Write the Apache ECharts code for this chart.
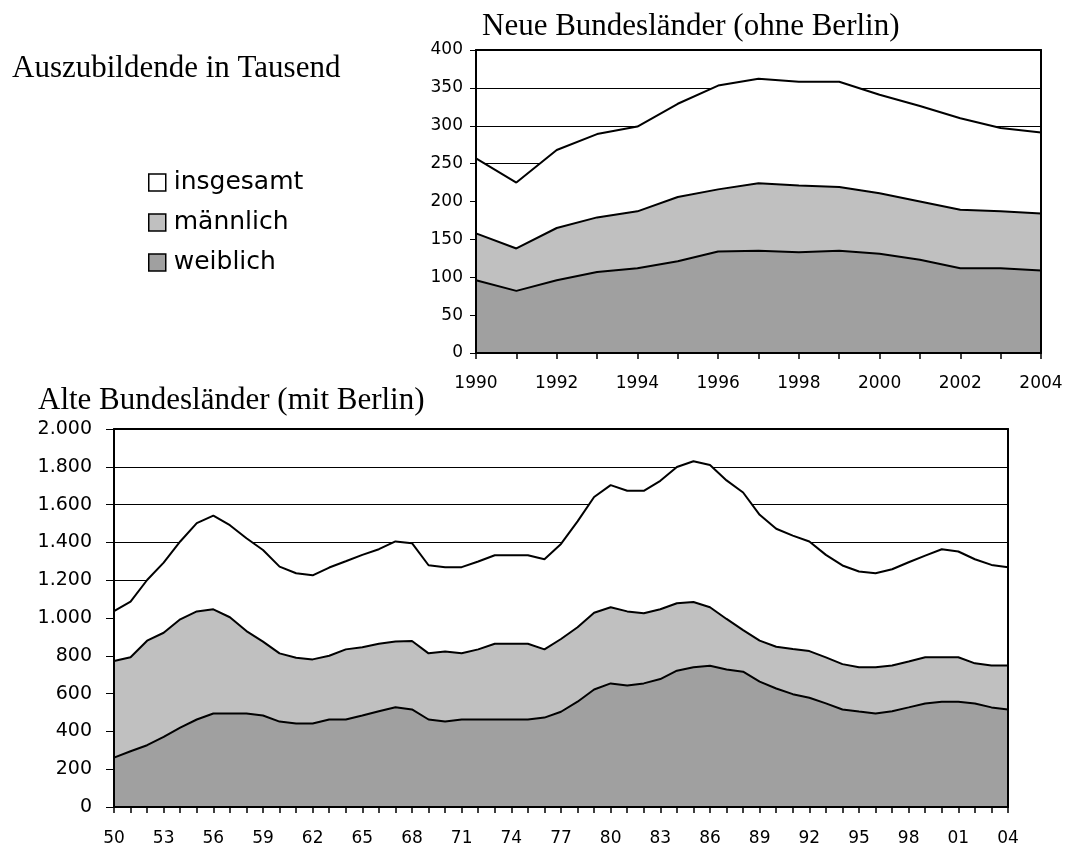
<!DOCTYPE html>
<html>
<head>
<meta charset="utf-8">
<script src="https://cdn.jsdelivr.net/npm/echarts@6/dist/echarts.min.js"></script>
<style>
  html, body { margin: 0; padding: 0; background: #fff; }
  #main { width: 1066px; height: 847px; }
</style>
</head>
<body>
<div id="main"></div>
<script>
// Neue Bundesländer (ohne Berlin), 1990-2004
var neuYears = ['1990', '1991', '1992', '1993', '1994', '1995', '1996', '1997', '1998', '1999', '2000', '2001', '2002', '2003', '2004'];
var neuInsgesamt = [257, 225, 268, 289, 299, 329, 353, 362, 358, 358, 341, 326, 310, 297, 291];
var neuMaennlich = [158, 138, 165, 179, 187, 206, 216, 224, 221, 219, 211, 200, 189, 187, 184];
var neuWeiblich = [96, 82, 96, 107, 112, 121, 134, 135, 133, 135, 131, 123, 112, 112, 109];

// Alte Bundesländer (mit Berlin), 1950-2004
var altYears = ['50', '51', '52', '53', '54', '55', '56', '57', '58', '59',
    '60', '61', '62', '63', '64', '65', '66', '67', '68', '69',
    '70', '71', '72', '73', '74', '75', '76', '77', '78', '79',
    '80', '81', '82', '83', '84', '85', '86', '87', '88', '89',
    '90', '91', '92', '93', '94', '95', '96', '97', '98', '99',
    '00', '01', '02', '03', '04'];
var altInsgesamt = [1037, 1087, 1201, 1293, 1405, 1502, 1542, 1491, 1422, 1360,
    1272, 1237, 1226, 1267, 1300, 1334, 1364, 1405, 1396, 1279,
    1269, 1269, 1299, 1332, 1332, 1332, 1311, 1392, 1511, 1640,
    1703, 1673, 1673, 1726, 1799, 1829, 1809, 1728, 1664, 1546,
    1472, 1436, 1405, 1334, 1278, 1246, 1237, 1258, 1295, 1330,
    1364, 1352, 1311, 1281, 1269];
var altMaennlich = [772, 792, 880, 922, 993, 1035, 1046, 1004, 931, 875,
    813, 790, 781, 800, 834, 845, 864, 876, 878, 813,
    823, 813, 834, 864, 864, 864, 834, 889, 951, 1028,
    1057, 1035, 1025, 1046, 1078, 1085, 1057, 995, 936, 880,
    848, 836, 825, 792, 756, 739, 739, 749, 770, 792,
    792, 792, 760, 749, 749];
var altWeiblich = [261, 295, 327, 371, 420, 463, 495, 495, 495, 484,
    452, 442, 442, 463, 463, 484, 507, 528, 516, 463,
    452, 463, 463, 463, 463, 463, 473, 504, 557, 622,
    654, 643, 654, 677, 721, 739, 747, 728, 716, 663,
    627, 597, 578, 548, 516, 505, 495, 507, 527, 548,
    557, 557, 548, 527, 516];

var serienNamen = ['insgesamt', 'männlich', 'weiblich'];
var fuellFarben = ['#ffffff', '#c0c0c0', '#a0a0a0'];

var myChart = echarts.init(document.getElementById('main'));

var labelFont = 'DejaVu Sans';
var serifFont = 'Liberation Serif';

// Tausenderpunkt wie im Original
function deFormat(v) {
    if (v >= 1000) {
        return Math.floor(v / 1000) + '.' + String(v % 1000).padStart(3, '0');
    }
    return String(v);
}

function frameX(gridIndex, data, pos) {
    return {
        type: 'category', gridIndex: gridIndex, position: pos, data: data,
        boundaryGap: false, z: 5,
        axisLine: {show: true, onZero: false, lineStyle: {color: '#000', width: 2}},
        axisTick: {show: false}, axisLabel: {show: false}, splitLine: {show: false}
    };
}

function frameY(gridIndex, max, pos, showLabels, fontSize, margin, tickLen) {
    return {
        type: 'value', gridIndex: gridIndex, position: pos, min: 0, max: max, z: 5,
        interval: max / (gridIndex === 0 ? 8 : 10),
        axisLine: {show: true, onZero: false, lineStyle: {color: '#000', width: 2}},
        axisTick: {show: showLabels, length: tickLen, lineStyle: {color: '#000', width: 1}},
        axisLabel: {
            show: showLabels, color: '#000', fontFamily: labelFont, fontSize: fontSize,
            margin: margin, formatter: deFormat
        },
        splitLine: {show: false}
    };
}

function makeSeries(xIdx, yIdx, data, i) {
    return {
        name: serienNamen[i],
        type: 'line',
        xAxisIndex: xIdx,
        yAxisIndex: yIdx,
        data: data,
        symbol: 'none',
        silent: true,
        lineStyle: {color: '#000', width: 2},
        itemStyle: {color: fuellFarben[i], borderColor: '#000'},
        areaStyle: {color: fuellFarben[i], opacity: 1}
    };
}

var option = {
    backgroundColor: '#fff',
    animation: false,
    title: [
        {
            text: 'Neue Bundesländer (ohne Berlin)', left: 482, top: 11, padding: 0,
            textStyle: {fontFamily: serifFont, fontSize: 31, fontWeight: 'normal', color: '#000'}
        },
        {
            text: 'Auszubildende in Tausend', left: 12, top: 53, padding: 0,
            textStyle: {fontFamily: serifFont, fontSize: 31, fontWeight: 'normal', color: '#000'}
        },
        {
            text: 'Alte Bundesländer (mit Berlin)', left: 38, top: 385, padding: 0,
            textStyle: {fontFamily: serifFont, fontSize: 31, fontWeight: 'normal', color: '#000'}
        }
    ],
    legend: {
        orient: 'vertical',
        left: 143,
        top: 165,
        itemWidth: 17,
        itemHeight: 17,
        itemGap: 15,
        selectedMode: false,
        data: serienNamen.map(function (n, i) {
            return {
                name: n,
                icon: 'rect',
                itemStyle: {color: fuellFarben[i], borderColor: '#000', borderWidth: 1.5}
            };
        }),
        textStyle: {fontFamily: labelFont, fontSize: 25, color: '#000', padding: [0, 0, 0, 3]}
    },
    grid: [
        {left: 476, right: 25, top: 50, bottom: 494},
        {left: 114, right: 58, top: 429, bottom: 40}
    ],
    xAxis: [
        {
            type: 'category', gridIndex: 0, position: 'bottom', data: neuYears,
            boundaryGap: false, z: 5,
            axisLine: {show: true, lineStyle: {color: '#000', width: 2}},
            axisTick: {show: true, interval: 0, length: 6, lineStyle: {color: '#000', width: 1.5}},
            axisLabel: {interval: 1, color: '#000', fontFamily: labelFont, fontSize: 17, margin: 22},
            splitLine: {show: false}
        },
        frameX(0, neuYears, 'top'),
        {
            type: 'category', gridIndex: 1, position: 'bottom', data: altYears,
            boundaryGap: false, z: 5,
            axisLine: {show: true, lineStyle: {color: '#000', width: 2}},
            axisTick: {show: true, interval: 0, length: 6, lineStyle: {color: '#000', width: 1.5}},
            axisLabel: {interval: 2, color: '#000', fontFamily: labelFont, fontSize: 17, margin: 23},
            splitLine: {show: false}
        },
        frameX(1, altYears, 'top')
    ],
    yAxis: [
        // Gitterlinien (unter den Flächen)
        {
            type: 'value', gridIndex: 0, min: 0, max: 400, interval: 50,
            axisLine: {show: false}, axisTick: {show: false}, axisLabel: {show: false},
            splitLine: {show: true, lineStyle: {color: '#000', width: 1}}
        },
        frameY(0, 400, 'left', true, 17, 13, 6),
        frameY(0, 400, 'right', false, 17, 0, 0),
        {
            type: 'value', gridIndex: 1, min: 0, max: 2000, interval: 200,
            axisLine: {show: false}, axisTick: {show: false}, axisLabel: {show: false},
            splitLine: {show: true, lineStyle: {color: '#000', width: 1}}
        },
        frameY(1, 2000, 'left', true, 19, 22, 8),
        frameY(1, 2000, 'right', false, 19, 0, 0)
    ],
    series: [
        makeSeries(0, 0, neuInsgesamt, 0),
        makeSeries(0, 0, neuMaennlich, 1),
        makeSeries(0, 0, neuWeiblich, 2),
        makeSeries(2, 3, altInsgesamt, 0),
        makeSeries(2, 3, altMaennlich, 1),
        makeSeries(2, 3, altWeiblich, 2)
    ]
};

myChart.setOption(option);
</script>
</body>
</html>
